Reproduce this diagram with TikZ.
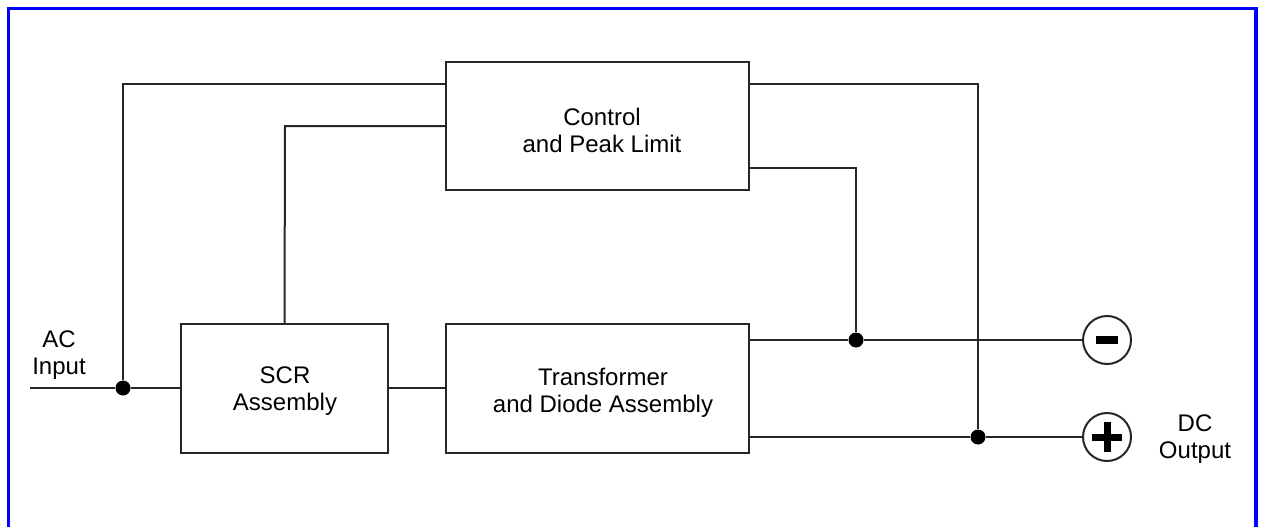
\documentclass[tikz,border=0pt]{standalone}
\usepackage{fontspec}
\setmainfont{Liberation Sans}
\usetikzlibrary{calc}
\begin{document}
\begin{tikzpicture}[x=1pt,y=-1pt,
  blk/.style={draw=black!85,line width=2pt,fill=white,inner sep=0pt},
  txt/.style={align=center,font=\fontsize{24}{27}\selectfont,inner sep=0pt},
  wire/.style={draw=black!85,line width=2pt},
  junc/.style={circle,fill=black,inner sep=0pt,minimum size=15pt},
  term/.style={circle,draw=black!85,line width=2pt,fill=white,minimum size=48pt,inner sep=0pt}]
\useasboundingbox (0,0) rectangle (1263,527);
\draw[blue,line width=3.5pt] (8.5,530) -- (8.5,8.5) -- (1256,8.5) -- (1256,530);
% blocks
\node[blk,minimum width=303pt,minimum height=128pt] (ctrl) at (597.5,126) {};
\node[blk,minimum width=207pt,minimum height=129pt] (scr) at (284.5,388.5) {};
\node[blk,minimum width=303pt,minimum height=129pt] (tfr) at (597.5,388.5) {};
\node[txt] (ctrlt) at (602,130) {Control\\and Peak Limit};
\node[txt] (scrt) at (285,391) {SCR\\Assembly};
\node[txt] (tfrt) at (603,393) {Transformer\\and Diode Assembly};
% terminals
\node[term] (neg) at (1107,340) {};
\node[term] (pos) at (1107,437) {};
\fill[black] ($(neg)+(-11,-4)$) rectangle ($(neg)+(11,4)$);
\fill[black] ($(pos)+(-15,-3.5)$) rectangle ($(pos)+(15,3.5)$);
\fill[black] ($(pos)+(-3.5,-15)$) rectangle ($(pos)+(3.5,15)$);
% coordinates
\coordinate (inL) at (30,388);
\node[junc] (j1) at (123,388) {};
\node[junc] (j2) at (856,340) {};
\node[junc] (j3) at (978,437) {};
% wires
\draw[wire] (inL) -- (j1) -- (scr.west |- j1);
\draw[wire] (j1) -- (123,84) -- (ctrl.west |- 0,84);
\draw[wire] (scr.north) -- (285,126) -- (ctrl.west |- 0,126);
\draw[wire] (scr.east |- 0,388) -- (tfr.west |- 0,388);
\draw[wire] (ctrl.east |- 0,84) -- (978,84) -- (j3);
\draw[wire] (ctrl.east |- 0,168) -- (856,168) -- (j2);
\draw[wire] (tfr.east |- 0,340) -- (j2) -- (neg.west);
\draw[wire] (tfr.east |- 0,437) -- (j3) -- (pos.west);
% labels
\node[txt] (ac) at (59,355) {AC\\Input};
\node[txt] (dc) at (1195,439) {DC\\Output};
\end{tikzpicture}
\end{document}
